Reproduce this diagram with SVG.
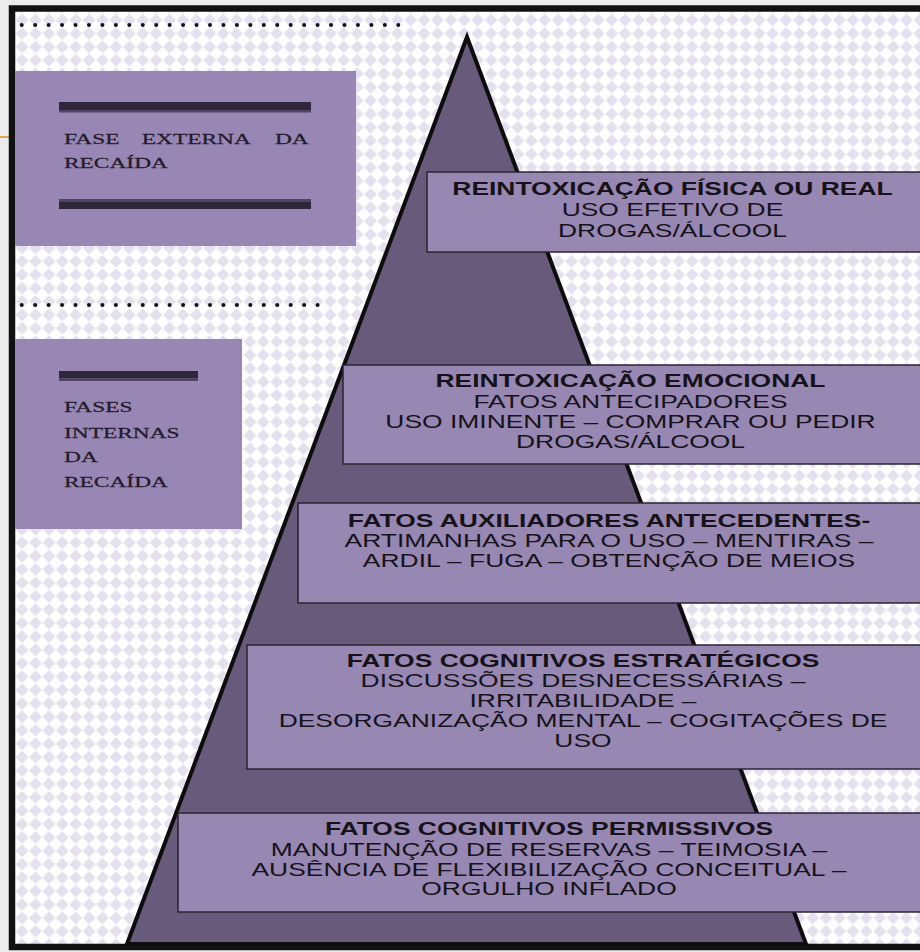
<svg xmlns="http://www.w3.org/2000/svg" width="920" height="952" viewBox="0 0 920 952">
<style>
.bx{fill:#9787b3;stroke:#2a2430;stroke-width:1.5}
.t{font-family:"Liberation Sans",Arial,sans-serif;font-size:17.5px;fill:#151318;text-anchor:middle}
.b{font-weight:bold}
.s{font-family:"Liberation Serif","Times New Roman",serif;font-size:15.5px;fill:#231b29;stroke:#231b29;stroke-width:0.25}
.panel{fill:#9887b4}
.bar{fill:#2e2639}
.barl{fill:#4e4363}
.dots{stroke:#111;stroke-width:4;stroke-linecap:round;stroke-dasharray:0 13.45;fill:none}
</style>
<defs>
<pattern id="dia" width="13.4" height="13.4" patternUnits="userSpaceOnUse" x="2" y="0">
<rect width="13.4" height="13.4" fill="#ffffff"/>
<path d="M6.7 0.3 L13.1 6.7 L6.7 13.1 L0.3 6.7Z" fill="#e4e0ee"/>
</pattern>
</defs>
<rect width="920" height="952" fill="#ececec"/>
<line x1="0" y1="137" x2="9" y2="137" stroke="#e3a555" stroke-width="2"/>
<rect x="12" y="8.5" width="920" height="938.5" fill="url(#dia)" stroke="#111" stroke-width="6.5"/>
<g id="connectors">
<line class="dots" x1="21.7" y1="25" x2="400" y2="25"/>
<line class="dots" x1="21.7" y1="305" x2="320" y2="305"/>
</g>
<g id="external-phase">
<rect class="panel" x="15" y="71" width="341" height="175"/>
<rect class="bar" x="59" y="102" width="252" height="8"/>
<rect class="barl" x="59" y="110" width="252" height="2.5"/>
<rect class="barl" x="59" y="199" width="252" height="2.5"/>
<rect class="bar" x="59" y="201.5" width="252" height="7.5"/>
<g transform="translate(64 0) scale(1.51 1)">
<text class="s" x="0" y="144">FASE</text>
<text class="s" x="51.5" y="144">EXTERNA</text>
<text class="s" x="139.7" y="144">DA</text>
<text class="s" x="0" y="168.3">RECAÍDA</text>
</g>
</g>
<g id="internal-phases">
<rect class="panel" x="15" y="339" width="227" height="190"/>
<rect class="bar" x="59" y="371" width="139" height="7.5"/>
<rect class="barl" x="59" y="378.5" width="139" height="2.5"/>
<g transform="translate(64 0) scale(1.51 1)">
<text class="s" x="0" y="412.3">FASES</text>
<text class="s" x="0" y="437.7">INTERNAS</text>
<text class="s" x="0" y="462.3">DA</text>
<text class="s" x="0" y="487.3">RECAÍDA</text>
</g>
</g>
<g id="pyramid">
<polygon points="467,37 127,944 806,944" fill="#675a7a" stroke="#0d0d0d" stroke-width="4" stroke-linejoin="miter"/>
</g>
<g id="level1">
<rect class="bx" x="427" y="172" width="500" height="80"/>
<g transform="translate(672.5 0) scale(1.51 1)">
<text class="t b" x="0" y="195">REINTOXICAÇÃO FÍSICA OU REAL</text>
<text class="t" x="0" y="216.5">USO EFETIVO DE</text>
<text class="t" x="0" y="236.7">DROGAS/ÁLCOOL</text>
</g>
</g>
<g id="level2">
<rect class="bx" x="343" y="365" width="584" height="99"/>
<g transform="translate(630.5 0) scale(1.51 1)">
<text class="t b" x="0" y="387.5">REINTOXICAÇÃO EMOCIONAL</text>
<text class="t" x="0" y="407.7">FATOS ANTECIPADORES</text>
<text class="t" x="0" y="428">USO IMINENTE – COMPRAR OU PEDIR</text>
<text class="t" x="0" y="448">DROGAS/ÁLCOOL</text>
</g>
</g>
<g id="level3">
<rect class="bx" x="298" y="503" width="629" height="100"/>
<g transform="translate(609 0) scale(1.51 1)">
<text class="t b" x="0" y="527">FATOS AUXILIADORES ANTECEDENTES-</text>
<text class="t" x="0" y="547.5">ARTIMANHAS PARA O USO – MENTIRAS –</text>
<text class="t" x="0" y="567">ARDIL – FUGA – OBTENÇÃO DE MEIOS</text>
</g>
</g>
<g id="level4">
<rect class="bx" x="247" y="645" width="680" height="124"/>
<g transform="translate(583 0) scale(1.51 1)">
<text class="t b" x="0" y="666.7">FATOS COGNITIVOS ESTRATÉGICOS</text>
<text class="t" x="0" y="686.7">DISCUSSÕES DESNECESSÁRIAS –</text>
<text class="t" x="0" y="706.7">IRRITABILIDADE –</text>
<text class="t" x="0" y="727.3">DESORGANIZAÇÃO MENTAL – COGITAÇÕES DE</text>
<text class="t" x="0" y="747">USO</text>
</g>
</g>
<g id="level5">
<rect class="bx" x="178" y="813" width="749" height="99"/>
<g transform="translate(549 0) scale(1.51 1)">
<text class="t b" x="0" y="835">FATOS COGNITIVOS PERMISSIVOS</text>
<text class="t" x="0" y="856">MANUTENÇÃO DE RESERVAS – TEIMOSIA –</text>
<text class="t" x="0" y="876">AUSÊNCIA DE FLEXIBILIZAÇÃO CONCEITUAL –</text>
<text class="t" x="0" y="895.5">ORGULHO INFLADO</text>
</g>
</g>
</svg>
